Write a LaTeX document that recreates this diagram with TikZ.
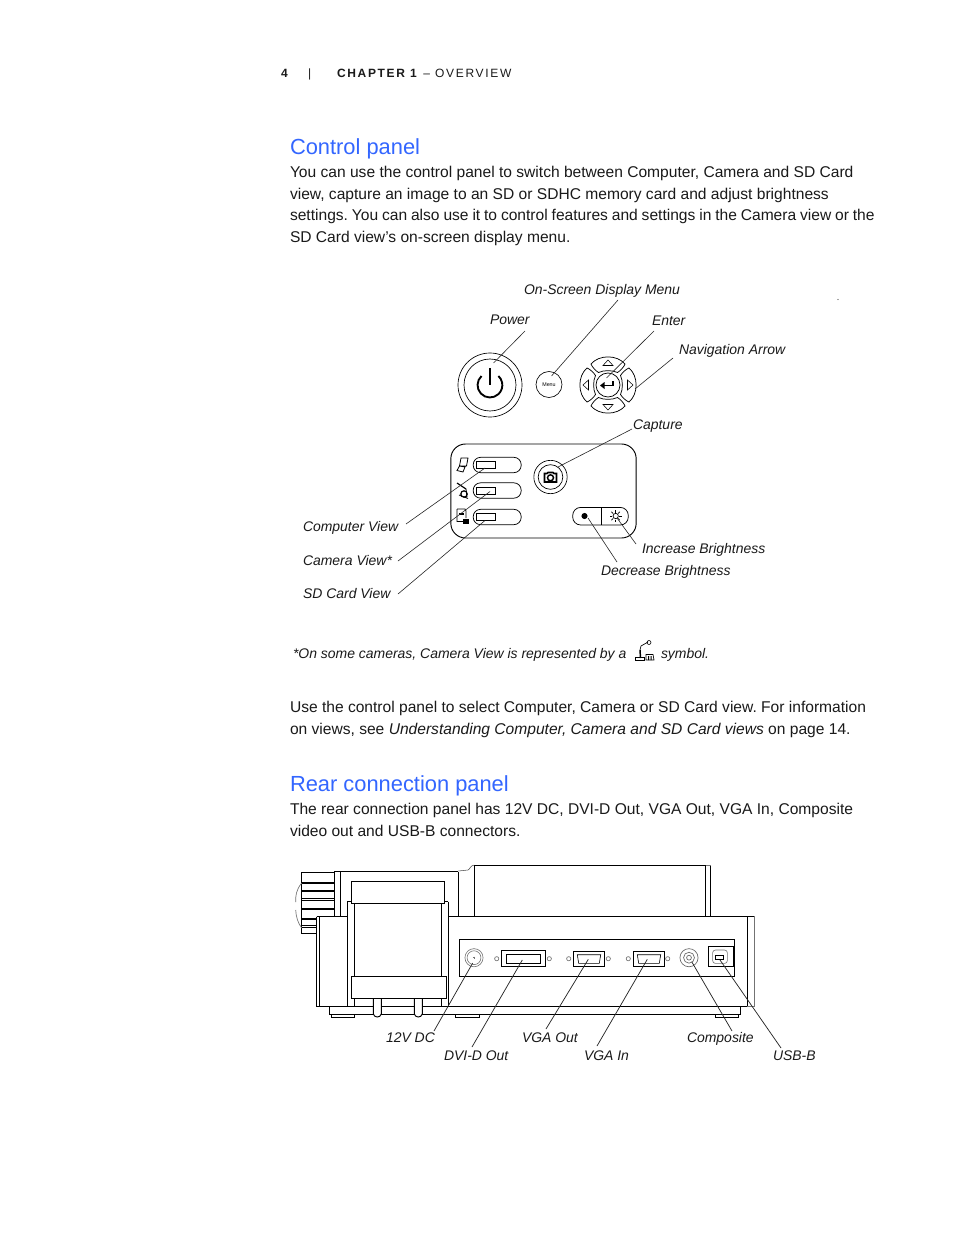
\documentclass[tikz,border=0pt]{standalone}
\usepackage{fontspec}
\setmainfont{Liberation Sans}
\newfontfamily\spaced[LetterSpace=14]{Liberation Sans}
\definecolor{headblue}{HTML}{3366FF}
\definecolor{bodyk}{HTML}{1A1A1A}
\tikzset{
 txt/.style={anchor=base west,inner sep=0pt,outer sep=0pt,text=bodyk,font=\fontsize{11.69}{14}\selectfont},
 heading/.style={anchor=base west,inner sep=0pt,outer sep=0pt,text=headblue,font=\fontsize{16.4}{20}\selectfont},
 lab/.style={anchor=base west,inner sep=0pt,outer sep=0pt,text=bodyk,font=\fontsize{10.47}{13}\selectfont\itshape},
 hdr/.style={anchor=base west,inner sep=0pt,outer sep=0pt,text=bodyk,font=\fontsize{9}{10}\selectfont\spaced},
 leader/.style={draw=black!85,line width=0.45pt},
 ln/.style={draw=black,line width=0.7pt},
 thin/.style={draw=black!70,line width=0.4pt},
 gr/.style={draw=black!55,line width=0.5pt},
 heavy/.style={draw=black,line width=1.4pt},
}
\begin{document}
\frenchspacing
\begin{tikzpicture}[x=0.75pt,y=-0.75pt]
\useasboundingbox (0,0) rectangle (954,1235);
\fill[white] (0,0) rectangle (954,1235);
% header
\node[hdr] (hnum) at (281,77.5) {\textbf{4}};
\node[hdr] (hbar) at (308,77.5) {|};
\node[hdr] (hchap) at (337,77.5) {\textbf{CHAPTER 1} – OVERVIEW};
% text
\node[heading] (h1) at (290,154.5) {Control panel};
\node[txt] (t1) at (290,177) {You can use the control panel to switch between Computer, Camera and SD Card};
\node[txt] (t2) at (290,199) {view, capture an image to an SD or SDHC memory card and adjust brightness};
\node[txt] (t3) at (290,220) {\spaceskip=2.9pt settings. You can also use it to control features and settings in the Camera view or the};
\node[txt] (t4) at (290,242) {SD Card view’s on-screen display menu.};
\node[txt] (t5) at (290,712) {Use the control panel to select Computer, Camera or SD Card view. For information};
\node[txt] (t6) at (290,734) {on views, see \textit{Understanding Computer, Camera and SD Card views} on page 14.};
\node[heading] (h2) at (290,791) {Rear connection panel};
\node[txt] (t7) at (290,814) {The rear connection panel has 12V DC, DVI-D Out, VGA Out, VGA In, Composite};
\node[txt] (t8) at (290,836) {video out and USB-B connectors.};
% labels top
\node[lab] (lOSD) at (524,294) {On-Screen Display Menu};
\node[lab] (lPow) at (490,324) {Power};
\node[lab] (lEnt) at (652,325) {Enter};
\node[lab] (lNav) at (679,354) {Navigation Arrow};
\node[lab] (lCap) at (633,429) {Capture};
\node[lab] (lCom) at (303,531) {Computer View};
\node[lab] (lCam) at (303,565) {Camera View*};
\node[lab] (lSD) at (303,598) {SD Card View};
\node[lab] (lInc) at (642,553) {Increase Brightness};
\node[lab] (lDec) at (601,575) {Decrease Brightness};
\node[lab] (fn1) at (293,658) {*On some cameras, Camera View is represented by a};
\node[lab] (fn2) at (661,658) {symbol.};
\fill[black!70] (838,299.5) circle (0.6);
% power
\node[circle,draw=black,line width=0.5pt,minimum size=48pt,inner sep=0pt] (power) at (490,385) {};
\node[circle,draw=black,line width=0.5pt,minimum size=39pt,inner sep=0pt] (powerin) at (490,385) {};
\draw[black,line width=1.4pt] (481.5,376) arc[start angle=227,end angle=-47,radius=12.4];
\draw[black,line width=1.4pt] (490,368) -- (490,385);
% menu
\node[circle,draw=black,line width=0.5pt,minimum size=19.5pt,inner sep=0pt,font=\fontsize{4}{4}\selectfont] (menu) at (549,384.5) {Menu};
% nav
\coordinate (navc) at (608,385);
\foreach \r in {0,90,180,270}{
 \begin{scope}[shift={(608,385)},rotate=\r]
  \draw[black,line width=0.55pt] (-17,-21) .. controls (-9,-30.5) and (9,-30.5) .. (17,-21)
    .. controls (16,-18) and (12,-14) .. (9.5,-12.5)
    .. controls (4,-15) and (-4,-15) .. (-9.5,-12.5)
    .. controls (-12,-14) and (-16,-18) .. (-17,-21) -- cycle;
  \draw[black,line width=0.4pt] (0,-25) -- (5,-19.5) -- (-5,-19.5) -- cycle;
 \end{scope}}
\node[circle,draw=black,line width=0.55pt,minimum size=18pt,inner sep=0pt] (enter) at (608,385) {};
\draw[black,line width=1.2pt] (612.7,381) -- (612.7,385.5) -- (603,385.5);
\fill[black] (600,385.5) -- (604.5,382) -- (604.5,389) -- cycle;
% panel
\node[draw=black,line width=0.7pt,rounded corners=11pt,minimum width=139pt,minimum height=70.5pt,inner sep=0pt] (panel) at (543.5,491) {};
\foreach \n/\y in {a/465,b/490.5,c/517}{
 \node[draw=black,line width=0.55pt,rounded corners=5.5pt,minimum width=36pt,minimum height=11.5pt,inner sep=0pt] (pill\n) at (497.2,\y) {};
 \node[draw=black,line width=0.5pt,minimum width=14.3pt,minimum height=5.2pt,inner sep=0pt] (rect\n) at (486,\y) {};
}
% icons
\draw[black,line width=0.6pt] (461,458) -- (468,458) -- (466.5,466) -- (459.5,466) -- cycle (459.5,466) -- (465,467) -- (463,472) -- (457,470.5) -- cycle;
\draw[black,line width=0.9pt] (457,483) -- (466,489);
\draw[black,line width=0.9pt] (464,494) circle (3.2);
\draw[black,line width=0.6pt] (466,489) -- (467,497) (459,495) -- (468,498.5);
\draw[black,line width=0.6pt] (457,509) -- (465,509) -- (466,511) -- (466,518) (457,509) -- (457,521.5) -- (463,521.5);
\fill[black] (463,519) rectangle (468.5,524);
\fill[black] (459,512.5) rectangle (464,515);
% capture
\node[circle,draw=black,line width=0.5pt,minimum size=25pt,inner sep=0pt] (capout) at (550.5,477) {};
\node[circle,draw=black,line width=0.5pt,minimum size=18.5pt,inner sep=0pt] (capin) at (550.5,477) {};
\draw[black,line width=1.3pt,fill=white] (544.5,473.5) -- (547,473.5) -- (548,472.5) -- (553,472.5) -- (554,473.5) -- (556.5,473.5) -- (556.5,482) -- (544.5,482) -- cycle;
\node[circle,draw=black,line width=1.1pt,minimum size=4.5pt,inner sep=0pt] (lens) at (550.5,477.8) {};
% brightness
\node[draw=black,line width=0.55pt,rounded corners=6pt,minimum width=41.7pt,minimum height=13.2pt,inner sep=0pt] (bright) at (600.5,516.2) {};
\draw[black,line width=0.55pt] (601.7,507.4) -- (601.7,525);
\node[circle,fill=black,minimum size=4.6pt,inner sep=0pt] (dark) at (584.5,516) {};
\node[circle,draw=black,line width=0.5pt,minimum size=4pt,inner sep=0pt] (sun) at (615.7,516) {};
\foreach \a in {0,45,...,315}{\draw[black,line width=0.5pt] (615.7,516) ++(\a:3.5) -- ++(\a:2.5);}
% leaders top
\coordinate (ePow) at (493.5,363);
\coordinate (fPow) at (525,331);
\coordinate (eOSD) at (551.5,376);
\coordinate (fOSD) at (618,300);
\coordinate (eEnt) at (606.5,378);
\coordinate (fEnt) at (654,331);
\coordinate (eNav) at (635,389);
\coordinate (fNav) at (673,358);
\coordinate (eCap) at (558,467);
\coordinate (fCap) at (632,429);
\coordinate (eCom) at (485,468);
\coordinate (fCom) at (406,524);
\coordinate (eCam) at (490,491.5);
\coordinate (fCam) at (398,561);
\coordinate (eSD) at (485,520.5);
\coordinate (fSD) at (398,594);
\coordinate (eInc) at (617,518);
\coordinate (fInc) at (636,544);
\coordinate (eDec) at (588,518);
\coordinate (fDec) at (617,562);
\foreach \n in {Pow,OSD,Ent,Nav,Cap,Com,Cam,SD,Inc,Dec}{\draw[leader] (e\n) -- (f\n);}
% footnote symbol
\draw[black,line width=1.1pt] (640,650) -- (640.5,658);
\draw[black,line width=0.5pt] (640,650) -- (641,646) -- (648,642);
\draw[black,line width=0.45pt] (649,642.5) circle (2);
\draw[black,line width=0.6pt] (635,657.5) rectangle (644,660);
\draw[black,line width=0.5pt] (646,654.5) -- (653,654.5) -- (654,660) -- (646,660) -- cycle;
\fill[black] (648,656) rectangle (649,660) (650.5,656) rectangle (651.5,660);
% rear device
\foreach \y in {872,898.7,900.2}{\draw[ln,line width=0.6pt] (301,\y) -- (334.3,\y);}
\foreach \y in {925.3,927.7,933.7}{\draw[ln,line width=0.6pt] (301,\y) -- (316.7,\y);}
\foreach \y in {883,891,908.7}{\draw[heavy] (301,\y) -- (334.3,\y);}
\draw[heavy] (301,918.7) -- (316.7,918.7);
\draw[ln] (301,872) -- (301,933.7);
\draw[gr] (301.7,883) .. controls (296,890) and (295.5,896) .. (295.7,902) (295.7,910) .. controls (296,917) and (298,923) .. (301.7,928);
\draw[ln] (334.3,871.7) -- (458.3,871.7) (334.3,871.7) -- (334.3,916.7) (340,871.7) -- (340,916.7) (458.3,871.7) -- (458.3,916);
\draw[thin] (458.3,871) -- (468,870) .. controls (470,869.5) and (470,865.5) .. (474.3,865);
\draw[ln] (474.3,865) -- (474.3,916) (474.3,865) -- (705.7,865) (705.7,865) -- (705.7,916);
\draw[ln] (710.7,865) -- (710.7,916);
\draw[gr] (705.7,865) -- (710.7,865);
\draw[ln] (448.3,916) -- (754.3,916);
\draw[gr] (754.3,916) -- (754.3,1006) -- (747.3,1006);
\draw[ln] (747.3,916) -- (747.3,1006);
\draw[ln] (316.7,916.7) -- (347.3,916.7) (316.7,916.7) -- (316.7,1006) -- (747.3,1006) (319.3,916.7) -- (319.3,1006);
\draw[ln] (347.3,901.7) -- (347.3,1006) (354.3,903) -- (354.3,1006) (441.3,903) -- (441.3,1006) (448.3,901.7) -- (448.3,1006) (347.3,901.7) -- (351.3,901.7) (444.7,901.7) -- (448.3,901.7);
\node[draw=black,line width=0.7pt,fill=white,minimum width=70.25pt,minimum height=16.7pt,inner sep=0pt] (ublock) at (398,892.2) {};
\node[draw=black,line width=0.7pt,fill=white,minimum width=71.5pt,minimum height=16.5pt,inner sep=0pt] (lblock) at (398.8,987.3) {};
\draw[ln] (329.3,1006) -- (329.3,1014.7) -- (740,1014.7) -- (740,1006);
\draw[ln] (331.7,1014.7) -- (331.7,1017.3) -- (354.7,1017.3) -- (354.7,1014.7);
\draw[ln] (455.7,1014.7) -- (455.7,1017.3) -- (479.3,1017.3) -- (479.3,1014.7);
\draw[ln] (715.3,1014.7) -- (715.3,1017.3) -- (738.3,1017.3) -- (738.3,1014.7);
\foreach \xx in {373.3,414.3}{
 \fill[white] (\xx,998.8) rectangle (\xx+8,1016);
 \draw[ln] (\xx,998.3) -- (\xx,1014) .. controls (\xx+1,1018) and (\xx+7,1018) .. (\xx+8,1014) -- (\xx+8,998.3);
}
\node[draw=black,line width=0.7pt,minimum width=206.5pt,minimum height=27.7pt,inner sep=0pt] (cpanel) at (597.2,957.8) {};
% 12V
\node[circle,draw=black!55,line width=0.45pt,minimum size=13.6pt,inner sep=0pt] (dcout) at (474,957.7) {};
\node[circle,draw=black!55,line width=0.45pt,minimum size=10.4pt,inner sep=0pt] (dcin) at (474,957.7) {};
\draw[black!55,line width=0.35pt] (472.8,957.7) -- (475.2,957.7) (474,956.5) -- (474,958.9);
% DVI
\node[draw=black,line width=0.7pt,minimum width=33pt,minimum height=12pt,inner sep=0pt] (dvi) at (523.3,958.7) {};
\node[draw=black,line width=0.5pt,minimum width=26pt,minimum height=6.7pt,inner sep=0pt] (dviin) at (523.3,958.8) {};
% VGA
\foreach \n/\c in {vo/589,vi/649}{
 \node[draw=black,line width=0.7pt,minimum width=23.5pt,minimum height=11.6pt,inner sep=0pt] (\n) at (\c,959) {};
 \draw[black,line width=0.45pt] (\c-11.7,954.7) -- (\c+11.7,954.7) -- (\c+10.3,963.3) -- (\c-10.3,963.3) -- cycle;
}
\foreach \xx in {496.7,549.3,568.7,608.3,628.3,667.7}{\draw[gr] (\xx,958.7) circle (2.1);}
% composite
\node[circle,draw=black!60,line width=0.5pt,minimum size=13.6pt,inner sep=0pt] (cmpa) at (689,957.7) {};
\node[circle,draw=black!60,line width=0.5pt,minimum size=8.2pt,inner sep=0pt] (cmpb) at (689,957.7) {};
\node[circle,draw=black!60,line width=0.5pt,minimum size=3.6pt,inner sep=0pt] (cmpc) at (689,957.7) {};
% USB
\node[draw=black,line width=0.7pt,minimum width=18.7pt,minimum height=15pt,inner sep=0pt] (usb) at (720.8,956.7) {};
\node[draw=black!55,line width=0.45pt,rounded corners=2pt,minimum width=11pt,minimum height=10pt,inner sep=0pt] (usbin) at (720,956.7) {};
\node[draw=black,line width=0.8pt,minimum width=5.4pt,minimum height=3.2pt,inner sep=0pt] (usbc) at (719.5,957.2) {};
% rear labels
\node[lab] (l12) at (386,1042) {12V DC};
\node[lab] (lDvi) at (444,1060) {DVI-D Out};
\node[lab] (lVo) at (522,1042) {VGA Out};
\node[lab] (lVi) at (584,1060) {VGA In};
\node[lab] (lCmp) at (687,1042) {Composite};
\node[lab] (lUsb) at (773,1060) {USB-B};
\coordinate (e12) at (472.7,963);
\coordinate (f12) at (434,1031);
\coordinate (eDvi) at (522.3,960);
\coordinate (fDvi) at (472,1047);
\coordinate (eVo) at (588.3,959.3);
\coordinate (fVo) at (546,1029);
\coordinate (eVi) at (647.3,959.3);
\coordinate (fVi) at (597,1046);
\coordinate (eCmp) at (691.7,961.7);
\coordinate (fCmp) at (732,1031);
\coordinate (eUsb) at (720,960);
\coordinate (fUsb) at (781,1048);
\foreach \n in {12,Dvi,Vo,Vi,Cmp,Usb}{\draw[leader,line width=0.55pt] (e\n) -- (f\n);}
\end{tikzpicture}
\end{document}
